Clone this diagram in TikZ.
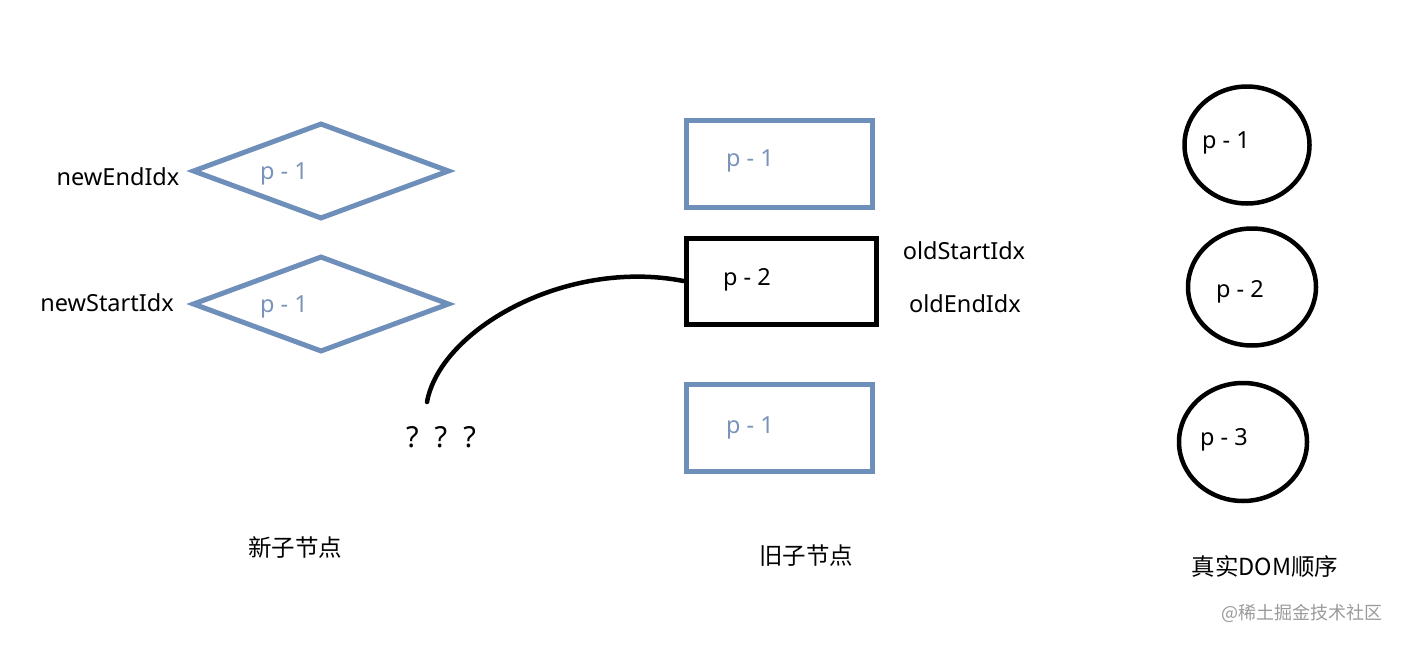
\documentclass[tikz,border=0pt]{standalone}
\usepackage{fontspec}
\setmainfont{Noto Sans}
\newfontfamily\cjk{Noto Sans CJK SC}
\usetikzlibrary{shapes.geometric}
\definecolor{vblue}{HTML}{6F8FBB}
\definecolor{vtext}{HTML}{7A94B9}
\definecolor{wmark}{HTML}{9A9A9A}

\begin{document}
\begin{tikzpicture}[x=1pt, y=-1pt,
  font=\fontsize{23.5}{28}\selectfont,
  newdia/.style={diamond, draw=vblue, line width=5pt, inner sep=0pt,
    minimum width=257pt, minimum height=96pt},
  oldbox/.style={rectangle, draw=vblue, line width=5pt, inner sep=0pt,
    minimum width=186pt, minimum height=87pt},
  curbox/.style={oldbox, draw=black, minimum width=190pt, minimum height=86pt},
  domcirc/.style={ellipse, draw=black, line width=4.5pt, inner sep=0pt,
    minimum width=125pt, minimum height=117pt},
  bluetxt/.style={text=vtext},
  cjktxt/.style={font=\cjk\fontsize{23.5}{28}\selectfont},
  link/.style={line width=4.5pt, line cap=round}]
  \useasboundingbox (0,0) rectangle (1401,645);
  % 新子节点
  \node[newdia] (nd1) at (321,171) {};
  \node[newdia] (nd2) at (321,304) {};
  \node[bluetxt] (nt1) at (284,174) {p - 1};
  \node[bluetxt] (nt2) at (284,307) {p - 1};
  \node (ne) at (118,177) {newEndIdx};
  \node (ns) at (107,303) {newStartIdx};
  \node[font=\fontsize{29}{32}\selectfont] (q) at (441,437) {?\hspace{16pt}?\hspace{16pt}?};
  \coordinate (qtop) at (427,402);
  % 旧子节点
  \node[oldbox] (ob1) at (779,164) {};
  \node[curbox] (ob2) at (781,281) {};
  \node[oldbox] (ob3) at (779,428) {};
  \node[bluetxt] (ot1) at (750,161) {p - 1};
  \node (ot2) at (747,280) {p - 2};
  \node[bluetxt] (ot3) at (750,428) {p - 1};
  \node (os) at (964,251) {oldStartIdx};
  \node (oe) at (965,304) {oldEndIdx};
  \draw[link] (qtop) .. controls (440,330) and (565,258) .. (ob2.west);
  % 真实DOM
  \node[domcirc] (d1) at (1247,145) {};
  \node[domcirc, minimum width=128pt] (d2) at (1252,287) {};
  \node[domcirc, minimum width=128pt, minimum height=118pt] (d3) at (1243,442) {};
  \node (dt1) at (1226,143) {p - 1};
  \node (dt2) at (1240,292) {p - 2};
  \node (dt3) at (1224,440) {p - 3};
  % 标题
  \node[cjktxt] (tn) at (295,548) {新子节点};
  \node[cjktxt] (to) at (806,556) {旧子节点};
  \node[cjktxt] (td) at (1265,567) {真实DOM顺序};
  \node[font=\cjk\fontsize{18}{22}\selectfont, text=wmark] (wm) at (1302,613) {@稀土掘金技术社区};
\end{tikzpicture}
\end{document}
